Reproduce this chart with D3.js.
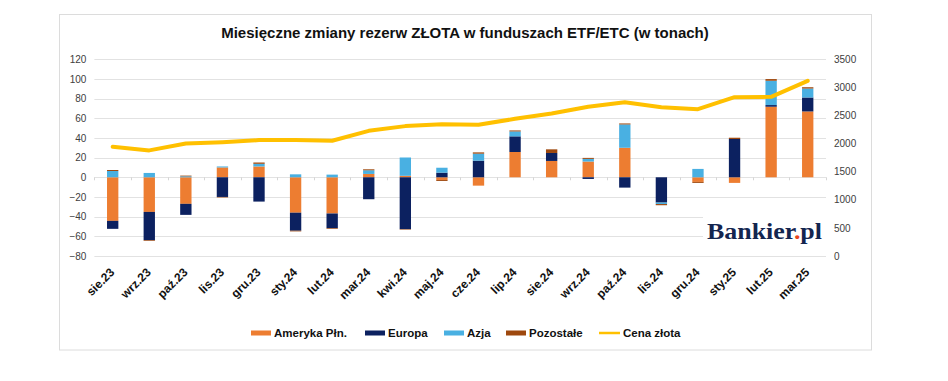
<!DOCTYPE html>
<html><head><meta charset="utf-8">
<script src="https://cdn.jsdelivr.net/npm/d3@7"></script>
<style>html,body{margin:0;padding:0;background:#fff}svg{display:block}</style>
</head><body>
<svg id="chart" width="948" height="381"></svg>
<script>
const categories = ["sie.23","wrz.23","paź.23","lis.23","gru.23","sty.24","lut.24","mar.24","kwi.24","maj.24","cze.24","lip.24","sie.24","wrz.24","paź.24","lis.24","gru.24","sty.25","lut.25","mar.25"];
const ameryka   = [-44.3,-35.2,-27.0,10.0,11.0,-36.0,-36.8,3.4,1.5,-2.7,-8.5,25.7,16.6,16.0,30.0,0,-4.7,-5.7,71.7,66.9];
const europa    = [-8.1,-28.7,-11.2,-20.0,-24.7,-18.3,-14.9,-22.3,-52.7,4.7,16.9,15.9,8.1,-1.7,-10.5,-25.7,0,38.9,1.7,14.2];
const azja      = [6.4,4.4,1.0,1.0,2.7,3.0,2.7,3.7,18.6,5.0,7.1,5.0,0,2.7,23.7,-1.5,8.5,0,24.7,9.1];
const pozostale = [1.0,-0.7,0.7,-0.5,1.3,-0.7,-0.7,1.0,-0.5,-1.0,1.3,1.0,3.7,1.0,1.0,-1.2,-1.0,1.3,1.7,1.3];
const cenaZlota = [1942,1878,2002,2025,2061,2061,2049,2226,2310,2345,2333,2440,2535,2653,2736,2647,2612,2825,2831,3115];
const leftTicks = [-80,-60,-40,-20,0,20,40,60,80,100,120];
const rightTicks = [0,500,1000,1500,2000,2500,3000,3500];
const seriesNames = ["Ameryka Płn.","Europa","Azja","Pozostałe"];
const seriesKeys = ["ameryka","europa","azja","pozostale"];
const seriesValues = [ameryka, europa, azja, pozostale];
const colors = ["#ED7D31","#0C2160","#49B0E2","#9E480E"];
const lineColor = "#FFC000";

const svg = d3.select("#chart");
svg.append("rect").attr("width",948).attr("height",381).attr("fill","#fff");
svg.append("rect").attr("x",59.5).attr("y",14.5).attr("width",812).attr("height",335.5)
  .attr("fill","#fff").attr("stroke","#dcdcdc").attr("stroke-width",1);

const font = "Liberation Sans, Arial, sans-serif";
svg.append("text").attr("x",465).attr("y",37.5).attr("text-anchor","middle")
  .attr("font-family",font).attr("font-weight","bold").attr("font-size",15).attr("fill","#111")
  .text("Miesięczne zmiany rezerw ZŁOTA w funduszach ETF/ETC (w tonach)");

const x0 = 94.4, x1 = 826;
const x = d3.scaleBand().domain(categories).range([x0,x1]).paddingInner(0.69).paddingOuter(0.345);
const y = d3.scaleLinear().domain([-80,120]).range([256,59.2]);
const y2 = d3.scaleLinear().domain([0,3500]).range([256,59.2]);

// gridlines
svg.append("g").selectAll("line").data(leftTicks).join("line")
  .attr("x1",x0).attr("x2",x1).attr("y1",d=>Math.round(y(d))+0.5).attr("y2",d=>Math.round(y(d))+0.5)
  .attr("stroke","#e2e2e2").attr("stroke-width",1);

// left axis
const la = svg.append("g").attr("transform",`translate(${x0},0)`)
  .call(d3.axisLeft(y).tickValues(leftTicks).tickSize(0).tickPadding(8).tickFormat(d=>d<0?"\u2212"+Math.abs(d):d));
la.select(".domain").remove();
la.selectAll("text").attr("font-family",font).attr("font-size",10).attr("fill","#404040");

// right axis
const ra = svg.append("g").attr("transform",`translate(${x1},0)`)
  .call(d3.axisRight(y2).tickValues(rightTicks).tickSize(0).tickPadding(8).tickFormat(d3.format("d")));
ra.select(".domain").remove();
ra.selectAll("text").attr("font-family",font).attr("font-size",10).attr("fill","#404040");

// zero-line ticks
const step = x.step();
svg.append("g").selectAll("line").data(d3.range(categories.length+1)).join("line")
  .attr("x1",i=>Math.round(x0+i*step)+0.5).attr("x2",i=>Math.round(x0+i*step)+0.5)
  .attr("y1",y(0)).attr("y2",y(0)+3).attr("stroke","#d6d6d6");

// stacked bars
const rows = categories.map((c,i)=>{const o={cat:c}; seriesKeys.forEach((k,j)=>o[k]=seriesValues[j][i]); return o;});
const stacked = d3.stack().keys(seriesKeys).offset(d3.stackOffsetDiverging)(rows);
svg.append("g").selectAll("g").data(stacked).join("g").attr("fill",(d,i)=>colors[i])
  .selectAll("rect").data(d=>d).join("rect")
  .attr("x",d=>x(d.data.cat)).attr("width",x.bandwidth())
  .attr("y",d=>y(Math.max(d[0],d[1]))).attr("height",d=>Math.abs(y(d[0])-y(d[1])));

// gold line
const line = d3.line().x((d,i)=>x(categories[i])+x.bandwidth()/2).y(d=>y2(d));
svg.append("path").datum(cenaZlota).attr("d",line).attr("fill","none")
  .attr("stroke",lineColor).attr("stroke-width",4).attr("stroke-linejoin","round").attr("stroke-linecap","round");

// x labels
svg.append("g").selectAll("text").data(categories).join("text")
  .attr("transform",d=>`translate(${x(d)+x.bandwidth()/2+2.5},273) rotate(-45)`)
  .attr("text-anchor","end").attr("font-family",font).attr("font-weight","bold").attr("font-size",12)
  .attr("fill","#111").text(d=>d);

// logo
svg.append("rect").attr("x",703).attr("y",208).attr("width",123).attr("height",44).attr("fill","#fff");
const logo = svg.append("text").attr("x",707).attr("y",238.5)
  .attr("font-family","Liberation Serif, DejaVu Serif, serif").attr("font-weight","bold").attr("font-size",24)
  .attr("fill","#13254f").attr("textLength",115).attr("lengthAdjust","spacingAndGlyphs");
logo.append("tspan").text("Bankier");
logo.append("tspan").attr("fill","#E8471E").text(".");
logo.append("tspan").text("pl");

// legend
const legendItems = [
  {name:seriesNames[0], color:colors[0], rx:251, tx:274, type:"rect"},
  {name:seriesNames[1], color:colors[1], rx:365, tx:388, type:"rect"},
  {name:seriesNames[2], color:colors[2], rx:444, tx:467, type:"rect"},
  {name:seriesNames[3], color:colors[3], rx:506, tx:529, type:"rect"},
  {name:"Cena złota", color:lineColor, rx:599, tx:623, type:"line"}
];
const lg = svg.append("g");
legendItems.forEach(it=>{
  if(it.type==="rect") lg.append("rect").attr("x",it.rx).attr("y",330.5).attr("width",20).attr("height",5).attr("fill",it.color);
  else lg.append("line").attr("x1",it.rx).attr("x2",it.rx+21).attr("y1",333).attr("y2",333).attr("stroke",it.color).attr("stroke-width",2.5);
  lg.append("text").attr("x",it.tx).attr("y",336.5).attr("font-family",font).attr("font-weight","bold")
    .attr("font-size",11.5).attr("fill","#111").text(it.name);
});
</script>
</body></html>
